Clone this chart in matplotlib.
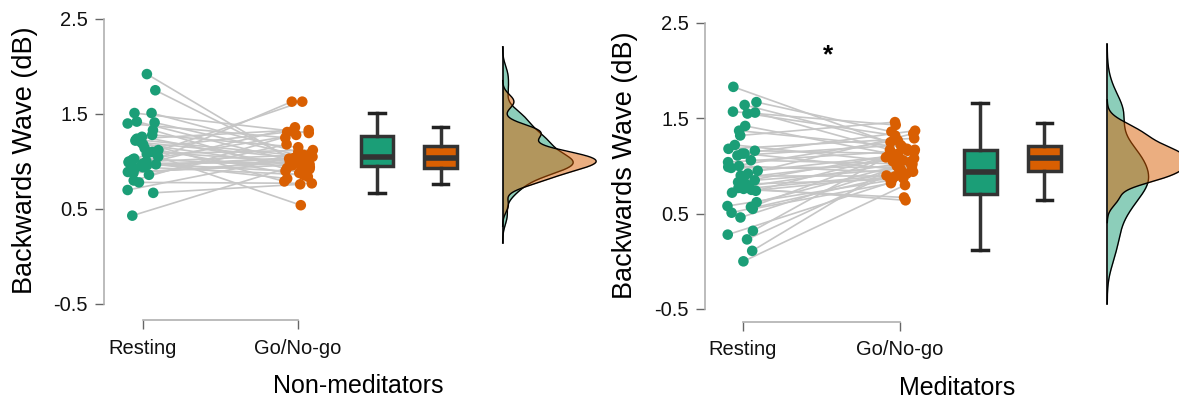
import numpy as np
import matplotlib
matplotlib.use("Agg")
import matplotlib.pyplot as plt

plt.rcParams['font.family'] = ['Liberation Sans', 'DejaVu Sans']

# ---- data ----
conditions = ['Resting', 'Go/No-go']
groups = ['Non-meditators', 'Meditators']

# non-meditators, paired values (Resting[i] <-> Go/No-go[i])
nonmed_rest = [1.92, 1.75, 1.51, 1.51, 1.42, 1.41, 1.40, 1.33, 1.28, 1.26,
               1.24, 1.23, 1.22, 1.20, 1.18, 1.14, 1.12, 1.10, 1.08, 1.05,
               1.03, 1.02, 1.00, 1.00, 0.99, 0.98, 0.97, 0.97, 0.96, 0.95,
               0.94, 0.93, 0.89, 0.88, 0.86, 0.80, 0.78, 0.70, 0.67, 0.43]
nonmed_gonogo = [1.02, 0.94, 1.10, 1.30, 0.98, 1.05, 1.25, 0.88, 1.15, 0.92,
                 1.33, 1.06, 0.79, 1.04, 0.96, 1.31, 0.84, 1.00, 1.12, 0.54,
                 0.95, 1.63, 1.07, 0.82, 1.28, 0.99, 1.36, 0.90, 1.05, 1.03,
                 0.86, 1.63, 0.97, 1.01, 1.18, 1.33, 0.77, 1.08, 0.76, 0.93]

# meditators
med_rest = [1.83, 1.67, 1.64, 1.57, 1.56, 1.55, 1.42, 1.37, 1.32, 1.22,
            1.18, 1.16, 1.13, 1.13, 1.11, 1.06, 1.04, 1.00, 0.99, 0.98,
            0.95, 0.92, 0.90, 0.88, 0.85, 0.83, 0.81, 0.79, 0.77, 0.76,
            0.75, 0.74, 0.72, 0.62, 0.58, 0.57, 0.55, 0.51, 0.46, 0.32,
            0.28, 0.23, 0.11, 0.00]
med_gonogo = [1.18, 1.36, 1.25, 1.43, 1.17, 1.32, 1.08, 1.20, 1.46, 1.05,
              1.29, 1.13, 1.37, 0.96, 1.22, 1.02, 1.16, 0.93, 1.27, 0.99,
              1.11, 1.34, 0.90, 1.07, 0.97, 1.15, 0.86, 1.04, 0.64, 0.92,
              0.67, 1.17, 0.89, 1.00, 0.85, 1.09, 0.82, 0.94, 1.03, 1.10,
              0.87, 0.96, 1.06, 0.80]

# box summaries as drawn: (whislo, q1, med, q3, whishi)
nonmed_box_rest = (0.67, 0.95, 1.05, 1.27, 1.51)
nonmed_box_gonogo = (0.76, 0.93, 1.04, 1.16, 1.36)
med_box_rest = (0.12, 0.71, 0.94, 1.17, 1.665)
med_box_gonogo = (0.64, 0.945, 1.08, 1.205, 1.45)

yticks = [-0.5, 0.5, 1.5, 2.5]
ytick_labels = ['-0.5', '0.5', '1.5', '2.5']

GREEN = '#1b9e77'
ORANGE = '#d95f02'
DARK = '#333333'
W, H = 1179, 400


def kde(values):
    # R-style density: bw.nrd0, cut = 3
    v = np.asarray(values, dtype=float)
    n = len(v)
    iqr = np.subtract(*np.percentile(v, [75, 25]))
    bw = 0.9 * min(v.std(ddof=1), iqr / 1.34) * n ** -0.2
    y = np.linspace(v.min() - 3 * bw, v.max() + 3 * bw, 400)
    d = np.exp(-0.5 * ((y[:, None] - v[None, :]) / bw) ** 2).sum(axis=1)
    d /= n * bw * np.sqrt(2 * np.pi)
    return y, d


def draw_panel(ax, rest, gonogo, box_rest, box_gonogo, rng):
    rest = np.asarray(rest)
    gonogo = np.asarray(gonogo)
    xr = 1 + rng.uniform(-0.1, 0.1, len(rest))
    xg = 2 + rng.uniform(-0.1, 0.1, len(gonogo))

    # paired lines
    for a, b, ya, yb in zip(xr, xg, rest, gonogo):
        ax.plot([a, b], [ya, yb], color='#c6c6c6', lw=1.2, zorder=1)
    ax.scatter(xr, rest, s=58, color=GREEN, edgecolors='none', zorder=3)
    ax.scatter(xg, gonogo, s=58, color=ORANGE, edgecolors='none', zorder=3)

    # boxes
    stats = []
    for b in (box_rest, box_gonogo):
        stats.append(dict(whislo=b[0], q1=b[1], med=b[2], q3=b[3],
                          whishi=b[4], fliers=[]))
    bp = ax.bxp(stats, positions=[2.51, 2.92], widths=0.21, capwidths=0.1,
                patch_artist=True, showfliers=False, manage_ticks=False,
                boxprops=dict(edgecolor=DARK, linewidth=2.5),
                medianprops=dict(color=DARK, linewidth=4),
                whiskerprops=dict(color=DARK, linewidth=2.5),
                capprops=dict(color='#222222', linewidth=2.5))
    for patch, c in zip(bp['boxes'], (GREEN, ORANGE)):
        patch.set_facecolor(c)

    # half densities
    base = 3.32
    scale = 0.27
    lo, hi = np.inf, -np.inf
    for vals, c in ((rest, GREEN), (gonogo, ORANGE)):
        y, d = kde(vals)
        ax.fill_betweenx(y, base, base + d * scale, color=c, alpha=0.5,
                         linewidth=0, zorder=2)
        ax.plot(base + d * scale, y, color='black', lw=1, zorder=2)
        lo, hi = min(lo, y.min()), max(hi, y.max())
    ax.plot([base, base], [lo, hi], color='black', lw=1.2, zorder=2)

    # axes styling
    for s in ('top', 'right'):
        ax.spines[s].set_visible(False)
    ax.spines['left'].set_bounds(-0.5, 2.5)
    ax.spines['bottom'].set_bounds(1, 2)
    for s in ('left', 'bottom'):
        ax.spines[s].set_color('#b0b0b0')
        ax.spines[s].set_linewidth(1.2)
    ax.set_yticks(yticks, ytick_labels)
    ax.set_xticks([1, 2], conditions)
    ax.tick_params(axis='both', length=6.5, width=1, color='#666666',
                   labelsize=14.5, labelcolor='#111111')
    ax.tick_params(axis='y', pad=5)
    ax.tick_params(axis='x', pad=7)


def add_axes_px(x0, x1, ytop, ybot):
    return fig.add_axes([x0 / W, 1 - ybot / H, (x1 - x0) / W, (ybot - ytop) / H])


fig = plt.figure(figsize=(W / 100, H / 100), dpi=100)
rng = np.random.default_rng(7)

# left panel: spine at 104px, x=1 at 143px, 155 px/unit
ax1 = add_axes_px(104, 600, 14.25, 320)
ax1.set_xlim(1 - 39 / 155, 1 + 457 / 155)
ax1.set_ylim(-0.5 - 16 / 94.95, 2.55)
draw_panel(ax1, nonmed_rest, nonmed_gonogo, nonmed_box_rest, nonmed_box_gonogo, rng)

# right panel: spine at 705px, x=1 at 743px, 157 px/unit
ax2 = add_axes_px(705, 1179, 18.2, 321.7)
ax2.set_xlim(1 - 38 / 157, 1 + 436 / 157)
ax2.set_ylim(-0.5 - 12.7 / 95.33, 2.55)
draw_panel(ax2, med_rest, med_gonogo, med_box_rest, med_box_gonogo, rng)
ax2.text(1.54, 2.16, '*', fontsize=19, fontweight='bold', ha='center', va='center')

fig.text(25 / W, 1 - 160 / H, 'Backwards Wave (dB)', rotation=90, fontsize=19.5,
         ha='center', va='center')
fig.text(625 / W, 1 - 165 / H, 'Backwards Wave (dB)', rotation=90, fontsize=19.5,
         ha='center', va='center')
fig.text(358 / W, 1 - 386 / H, groups[0], fontsize=18, ha='center', va='center')
fig.text(957 / W, 1 - 388 / H, groups[1], fontsize=18, ha='center', va='center')

fig.savefig('out.png', dpi=100)
